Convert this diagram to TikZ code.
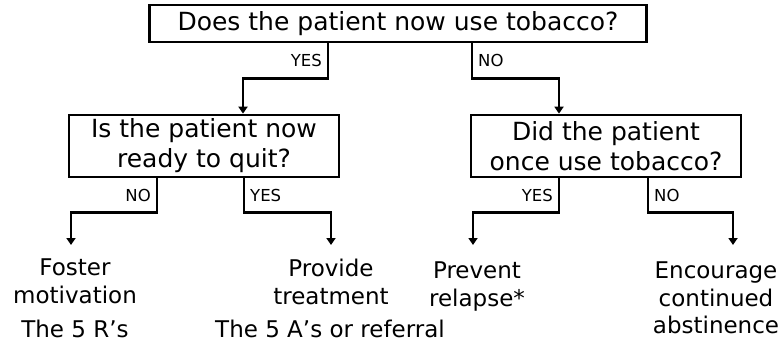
\documentclass[tikz,border=0pt]{standalone}
\usepackage{fontspec}
\setmainfont{DejaVu Sans}
\usetikzlibrary{positioning,arrows.meta}

\begin{document}
\begin{tikzpicture}[
        x=1pt, y=-1pt,
        question/.style={draw, line width=2.7pt, align=center, inner sep=0pt, font=\fontsize{25}{30}\selectfont},
        answer/.style={align=center, anchor=north, inner sep=0pt, font=\fontsize{23}{27.5}\selectfont},
        branch/.style={-{Triangle[length=7pt,width=9pt]}, line width=2.4pt},
        tag/.style={font=\fontsize{16.5}{16.5}\selectfont, inner sep=5pt}
    ]
    \useasboundingbox (0,0) rectangle (782,343);

    % Questions
    \node[question, minimum width=497pt, minimum height=37pt] (nowuse) at (398,23.5) {Does the patient now use tobacco?};
    \node[question, minimum width=270pt, minimum height=62pt] (ready) at (204,146) {Is the patient now\\ready to quit?};
    \node[question, minimum width=270pt, minimum height=62pt] (once) at (606,146) {Did the patient\\once use tobacco?};

    % Outcomes
    \node[answer] (foster) at (75,259) {Foster\\motivation};
    \node[answer] (provide) at (331,259) {Provide\\treatment};
    \node[answer] (prevent) at (477,262) {Prevent\\relapse*};
    \node[answer] (encourage) at (716,262) {Encourage\\continued\\abstinence};
    \node[answer, anchor=base] (fiver) at (75,337) {The 5 R’s};
    \node[answer, anchor=base] (fivea) at (330,337) {The 5 A’s or referral};

    % Branches
    \draw[branch] ([xshift=-70pt]nowuse.south) -- node[tag, left] {YES} ++(0,35) -| ([xshift=39pt]ready.north);
    \draw[branch] ([xshift=74pt]nowuse.south) -- node[tag, right] {NO} ++(0,35) -| ([xshift=-47pt]once.north);
    \draw[branch] ([xshift=-47pt]ready.south) -- node[tag, left] {NO} ++(0,34) -| ([xshift=-4pt, yshift=14pt]foster.north);
    \draw[branch] ([xshift=40pt]ready.south) -- node[tag, right] {YES} ++(0,34) -| ([yshift=14pt]provide.north);
    \draw[branch] ([xshift=-47pt]once.south) -- node[tag, left] {YES} ++(0,34) -| ([xshift=-4pt, yshift=17pt]prevent.north);
    \draw[branch] ([xshift=42pt]once.south) -- node[tag, right] {NO} ++(0,34) -| ([xshift=17pt, yshift=17pt]encourage.north);

\end{tikzpicture}
\end{document}
